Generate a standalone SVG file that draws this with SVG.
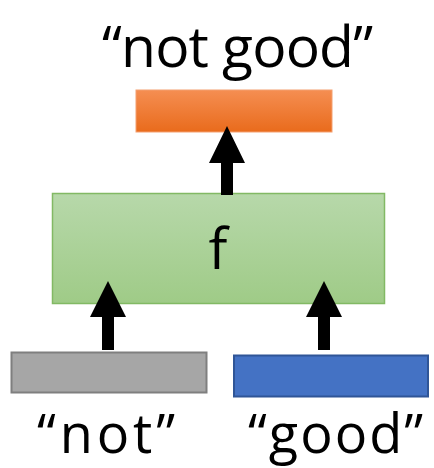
<svg xmlns="http://www.w3.org/2000/svg" width="434" height="468" viewBox="0 0 434 468">
  <defs>
    <linearGradient id="gOrange" x1="0" y1="0" x2="0" y2="1">
      <stop offset="0" stop-color="#f58e52"/>
      <stop offset="1" stop-color="#e96b1c"/>
    </linearGradient>
    <linearGradient id="gGreen" x1="0" y1="0" x2="0" y2="1">
      <stop offset="0" stop-color="#b7d8aa"/>
      <stop offset="1" stop-color="#9fcb87"/>
    </linearGradient>
  </defs>
  <style>
    .lbl { font-family: "Open Sans", "Liberation Sans", sans-serif; fill: #000; text-anchor: middle; }
    .arrow { fill: #000; }
  </style>

  <text class="lbl" x="237.5" y="67" font-size="57" textLength="271" lengthAdjust="spacing">“not good”</text>

  <g id="output">
    <rect x="136" y="90" width="196" height="42" fill="url(#gOrange)" stroke="#f4a070" stroke-width="1"/>
  </g>

  <g id="f">
    <rect x="52.5" y="193.5" width="332" height="110" fill="url(#gGreen)" stroke="#82b964" stroke-width="1.5"/>
    <text class="lbl" x="218" y="269" font-size="56">f</text>
  </g>

  <g id="not">
    <rect x="11.5" y="352.5" width="195" height="40" fill="#a6a6a6" stroke="#7f7f7f" stroke-width="2"/>
    <text class="lbl" x="106" y="453" font-size="54" textLength="138" lengthAdjust="spacing">“not”</text>
  </g>

  <g id="good">
    <rect x="234" y="355.5" width="194" height="41" fill="#4472c4" stroke="#2f5597" stroke-width="2"/>
    <text class="lbl" x="335.5" y="453" font-size="54" textLength="175" lengthAdjust="spacing">“good”</text>
  </g>

  <g id="connectors">
    <polygon class="arrow" points="221,195 233,195 233,163 245,163 227,126 209,163 221,163"/>
    <polygon class="arrow" points="102,350 114,350 114,317 126,317 108,281 90,317 102,317"/>
    <polygon class="arrow" points="318,350 330,350 330,317 342,317 324,281 306,317 318,317"/>
  </g>
</svg>
